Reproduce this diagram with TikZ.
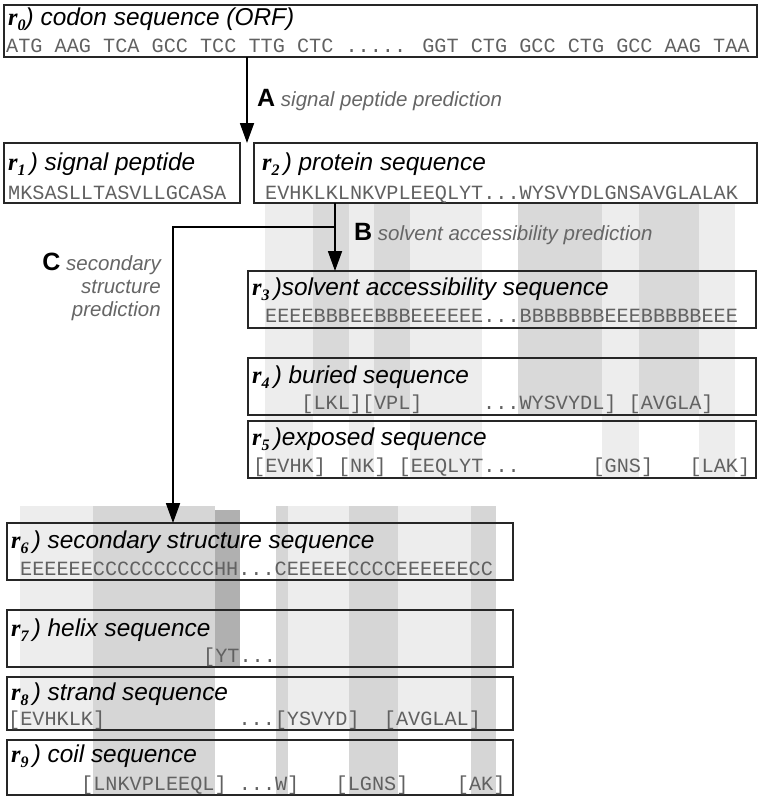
\documentclass[tikz,border=0pt]{standalone}
\usepackage{fontspec}
\setmainfont{Liberation Sans}
\newfontfamily\seqfont{Liberation Mono}
\newfontfamily\rfont{Liberation Serif}
\usetikzlibrary{arrows.meta}
\newcommand{\rl}[1]{{\rfont\bfseries\itshape r\raisebox{-0.22em}{\fontsize{16}{16}\selectfont #1}}}
\newcommand{\predKey}[1]{{\color{black}\upshape\bfseries\fontsize{25}{25}\selectfont #1}}
\tikzset{
  seqBox/.style={rectangle, draw=black!85, line width=1.4pt, inner sep=0pt, outer sep=0pt, anchor=north west},
  boxTitle/.style={anchor=base west, inner sep=0pt, font=\fontsize{24.4}{28}\selectfont\itshape},
  seqText/.style={anchor=base west, inner sep=0pt, text=black!62, font=\seqfont\fontsize{20.2}{24}\selectfont},
  predLabel/.style={inner sep=0pt, text=black!60, font=\fontsize{20.5}{23}\selectfont\itshape},
  predArrow/.style={line width=1.8pt, -{Triangle[length=20pt,width=14pt]}},
  exposedBand/.style={fill=black!7},
  buriedBand/.style={fill=black!15},
  strandBand/.style={fill=black!7},
  coilBand/.style={fill=black!16},
  helixBand/.style={fill=black!31}
}
\begin{document}
\begin{tikzpicture}[x=1pt, y=-1pt]
  \useasboundingbox (0,0) rectangle (762,803);

  % solvent accessibility columns
  \fill[exposedBand] (265,204) rectangle (313.2,478);
  \fill[buriedBand] (313.2,204) rectangle (349.4,415);
  \fill[exposedBand] (349.4,204) rectangle (373.5,478);
  \fill[buriedBand] (373.5,204) rectangle (409.6,415);
  \fill[exposedBand] (409.6,204) rectangle (481.9,478);
  \fill[buriedBand] (518.1,204) rectangle (602.4,415);
  \fill[exposedBand] (602.4,204) rectangle (638.6,478);
  \fill[buriedBand] (638.6,204) rectangle (698.8,415);
  \fill[exposedBand] (698.8,204) rectangle (735,478);

  % secondary structure columns
  \fill[strandBand] (20,506) rectangle (93.2,730);
  \fill[coilBand] (93.2,506) rectangle (215.2,795);
  \fill[helixBand] (215.2,510) rectangle (239.6,667);
  \fill[coilBand] (276.2,506) rectangle (288.4,795);
  \fill[strandBand] (288.4,506) rectangle (349.4,730);
  \fill[coilBand] (349.4,506) rectangle (398.2,795);
  \fill[strandBand] (398.2,506) rectangle (471.4,730);
  \fill[coilBand] (471.4,506) rectangle (495.8,795);

  % boxes
  \node[seqBox, minimum width=753pt, minimum height=52pt] (r0) at (4,5) {};
  \node[seqBox, minimum width=236pt, minimum height=60pt] (r1) at (4,143) {};
  \node[seqBox, minimum width=503pt, minimum height=60pt] (r2) at (254,143) {};
  \node[seqBox, minimum width=508pt, minimum height=57pt] (r3) at (248,271) {};
  \node[seqBox, minimum width=508pt, minimum height=57pt] (r4) at (248,358) {};
  \node[seqBox, minimum width=508pt, minimum height=57pt] (r5) at (248,421) {};
  \node[seqBox, minimum width=506pt, minimum height=57pt] (r6) at (7,523) {};
  \node[seqBox, minimum width=506pt, minimum height=57pt] (r7) at (7,610) {};
  \node[seqBox, minimum width=506pt, minimum height=53pt] (r8) at (7,677) {};
  \node[seqBox, minimum width=506pt, minimum height=55pt] (r9) at (7,740) {};

  % titles
  \node[boxTitle] (r0t) at (8,25) {\rl{0}) codon sequence (ORF)};
  \node[boxTitle] (r1t) at (8,170) {\rl{1}\,) signal peptide};
  \node[boxTitle] (r2t) at (262,170) {\rl{2}\,) protein sequence};
  \node[boxTitle] (r3t) at (252,295) {\rl{3}\,)solvent accessibility sequence};
  \node[boxTitle] (r4t) at (252,383) {\rl{4}\,) buried sequence};
  \node[boxTitle] (r5t) at (252,445) {\rl{5}\,)exposed sequence};
  \node[boxTitle] (r6t) at (11,548) {\rl{6}\,) secondary structure sequence};
  \node[boxTitle] (r7t) at (11,636) {\rl{7}\,) helix sequence};
  \node[boxTitle] (r8t) at (11,700) {\rl{8}\,) strand sequence};
  \node[boxTitle] (r9t) at (11,762) {\rl{9}\,) coil sequence};

  % sequences
  \node[seqText] (r0s) at (6,52) {ATG AAG TCA GCC TCC TTG CTC ..... GGT CTG GCC CTG GCC AAG TAA};
  \node[seqText] (r1s) at (8,199) {MKSASLLTASVLLGCASA};
  \node[seqText] (r2s) at (265,199) {EVHKLKLNKVPLEEQLYT...WYSVYDLGNSAVGLALAK};
  \node[seqText] (r3s) at (265,322) {EEEEBBBEEBBBEEEEEE...BBBBBBBEEEBBBBBEEE};
  \node[seqText] (r4s) at (301.2,409) {[LKL][VPL]~~~~~...WYSVYDL]~[AVGLA]};
  \node[seqText] (r5s) at (253,472) {[EVHK]~[NK]~[EEQLYT...~~~~~~[GNS]~~~[LAK]};
  \node[seqText] (r6s) at (20,575) {EEEEEECCCCCCCCCCHH...CEEEEECCCCEEEEEECC};
  \node[seqText] (r7s) at (203,662) {[YT...};
  \node[seqText] (r8s) at (8,725) {[EVHKLK]~~~~~~~~~~~...[YSVYD]~~[AVGLAL]};
  \node[seqText] (r9s) at (81,790) {[LNKVPLEEQL]~...W]~~~[LGNS]~~~~[AK]};

  % predictions
  \coordinate (split) at (247,143);
  \coordinate (fork) at (335,227);
  \coordinate (turn) at (173,227);
  \draw[predArrow] (r0.south -| split) -- (split);
  \draw[predArrow] (r2.south -| fork) -- (r3.north -| fork);
  \draw[predArrow] (fork) -- (turn) -- (r6.north -| turn);

  \node[predLabel, anchor=base west] (labA) at (257,106) {\predKey{A} signal peptide prediction};
  \node[predLabel, anchor=base west] (labB) at (354,240) {\predKey{B} solvent accessibility prediction};
  \node[predLabel, anchor=base east, align=right] (labC) at (161,316) {\predKey{C} secondary\\structure\\prediction};
\end{tikzpicture}
\end{document}
